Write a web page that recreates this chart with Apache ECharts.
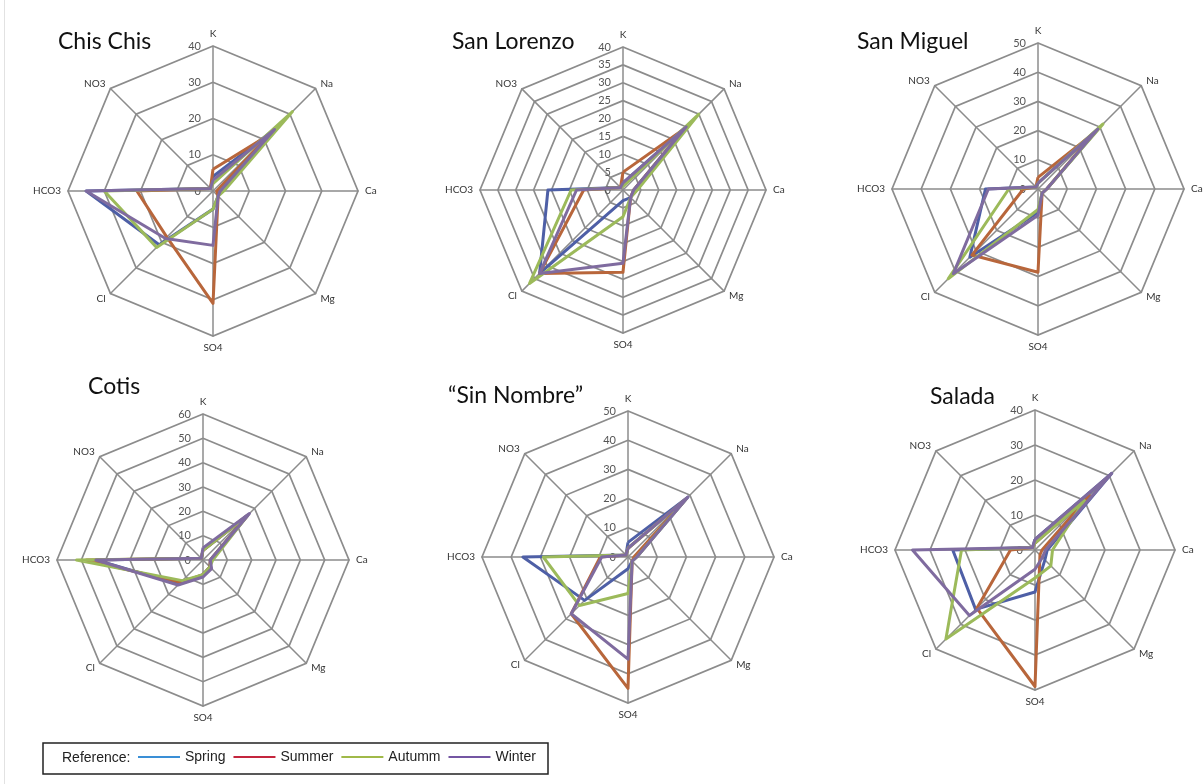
<!DOCTYPE html>
<html>
<head>
<meta charset="utf-8">
<script src="https://cdn.jsdelivr.net/npm/echarts@6/dist/echarts.min.js"></script>
<style>
  html, body { margin: 0; padding: 0; background: #fff; }
  #chart { width: 1203px; height: 784px; }
</style>
</head>
<body>
<div id="chart"></div>
<script>
// Ion axes, listed clockwise from the top
const ions = ['K', 'Na', 'Ca', 'Mg', 'SO4', 'Cl', 'HCO3', 'NO3'];
const seasons = ['Spring', 'Summer', 'Autumm', 'Winter'];

const sites = ['Chis Chis', 'San Lorenzo', 'San Miguel', 'Cotis', '\u201cSin Nombre\u201d', 'Salada'];
const axisMax = [40, 40, 50, 60, 50, 40];
const axisStep = [10, 5, 10, 10, 10, 10];

// Concentrations per site: one row per season (Spring, Summer, Autumm, Winter), columns follow `ions`
const chisChis = [
  [4, 24, 2, 2, 5, 21, 35, 1],
  [6, 22, 1, 2, 31, 18, 21, 1],
  [2, 31, 3, 2, 5, 22, 30, 1],
  [3, 24, 2, 2, 15, 18.5, 35, 1]
];
const sanLorenzo = [
  [2, 25, 3, 3, 3, 33, 21, 1],
  [5, 24, 3, 3, 23, 33, 11, 1],
  [1, 30, 4, 3, 7.5, 37, 14.5, 1],
  [2, 25, 3, 3, 20.5, 33, 13, 1]
];
const sanMiguel = [
  [2, 29, 3, 2, 8, 33, 18, 1],
  [4, 27, 3, 2, 28.5, 32, 5, 1],
  [2, 31.5, 3, 2, 7, 43.5, 10, 1],
  [2, 29, 3, 2, 9, 41, 17, 1]
];
const cotis = [
  [4, 26, 3, 4, 6, 14, 44, 1],
  [4, 26, 3, 4, 6, 13, 48, 1],
  [4, 26, 4, 4, 6, 12, 52, 1],
  [5, 27, 3, 5, 7, 14.5, 44, 1]
];
const sinNombre = [
  [5, 29, 3, 2, 4, 21, 36, 1],
  [3, 28, 2, 2, 45, 27.5, 9.5, 1],
  [3, 28, 3, 2, 12.5, 23.5, 29, 1],
  [3, 29, 3, 2, 35, 27.5, 9, 1]
];
const salada = [
  [3, 31, 3.5, 4, 12, 24, 23.5, 1],
  [2, 22, 2, 2, 39, 23.5, 7, 1],
  [2, 20, 5, 6.4, 8, 36, 21, 1],
  [3, 31, 3, 3, 5.5, 26.5, 35, 1]
];
const siteValues = [chisChis, sanLorenzo, sanMiguel, cotis, sinNombre, salada];

// Layout of the six panels (pixels)
const panels = [
  { cx: 213, cy: 191, r: 145, titleX: 58, titleY: 30 },
  { cx: 623, cy: 190, r: 143, titleX: 452, titleY: 30 },
  { cx: 1038, cy: 189, r: 146, titleX: 857, titleY: 30 },
  { cx: 203, cy: 560, r: 146, titleX: 88, titleY: 375 },
  { cx: 628, cy: 557, r: 146, titleX: 448, titleY: 384 },
  { cx: 1035, cy: 550, r: 140, titleX: 930, titleY: 385 }
];

const lineColors = ['#4e5fa6', '#b8663b', '#9cba5a', '#7f6b9f'];
const legendColors = ['#3a8fd6', '#c4253d', '#a0b948', '#7456a3'];

// ECharts lays radar indicators out counter-clockwise, so walk the ions backwards after K
const order = [0, 7, 6, 5, 4, 3, 2, 1];

const gridColor = '#8c8c8c';
const font = 'Lato, "Liberation Sans", sans-serif';

const radars = [];
const series = [];
const titles = [];

sites.forEach((site, i) => {
  const p = panels[i];
  const indicator = order.map((k, j) => {
    const ind = { name: ions[k], min: 0, max: axisMax[i] };
    if (j === 0) {
      ind.axisLabel = {
        show: true,
        color: '#555',
        fontSize: 11,
        fontFamily: font,
        margin: 12
      };
    }
    return ind;
  });
  radars.push({
    center: [p.cx, p.cy],
    radius: p.r,
    startAngle: 90,
    shape: 'polygon',
    splitNumber: axisMax[i] / axisStep[i],
    indicator: indicator,
    axisName: { color: '#333', fontSize: 10, fontFamily: font },
    nameGap: 7,
    axisLabel: { show: false },
    axisTick: { show: false },
    axisLine: { lineStyle: { color: gridColor, width: 1.5 } },
    splitLine: { lineStyle: { color: gridColor, width: 1.7 } },
    splitArea: { show: false }
  });
  series.push({
    type: 'radar',
    radarIndex: i,
    symbol: 'none',
    silent: true,
    data: siteValues[i].map((row, s) => ({
      name: seasons[s],
      value: order.map(k => row[k]),
      lineStyle: { color: lineColors[s], width: 3 },
      itemStyle: { color: lineColors[s] }
    }))
  });
  titles.push({
    text: site,
    left: p.titleX,
    top: p.titleY,
    padding: 0,
    textStyle: { fontSize: 23, fontWeight: 'normal', color: '#111', fontFamily: font }
  });
});

const chart = echarts.init(document.getElementById('chart'), null, { renderer: 'canvas' });
chart.setOption({
  animation: false,
  backgroundColor: '#fff',
  title: titles,
  radar: radars,
  series: series,
  legend: {
    left: 138,
    top: 750,
    padding: 0,
    icon: 'rect',
    itemWidth: 42,
    itemHeight: 2,
    itemGap: 8,
    selectedMode: false,
    textStyle: { fontSize: 14, color: '#222', fontFamily: '"Liberation Sans", Arial, sans-serif' },
    data: seasons.map((s, k) => ({ name: s, itemStyle: { color: legendColors[k] } }))
  },
  graphic: [
    {
      type: 'line',
      shape: { x1: 4.5, y1: 0, x2: 4.5, y2: 784 },
      style: { stroke: '#e2e2e2', lineWidth: 1 },
      silent: true
    },
    {
      type: 'rect',
      shape: { x: 43, y: 743, width: 505, height: 31 },
      style: { fill: 'none', stroke: '#222', lineWidth: 1.5 },
      silent: true
    },
    {
      type: 'text',
      x: 62,
      y: 758,
      style: {
        text: 'Reference:',
        fill: '#222',
        fontSize: 14,
        fontFamily: '"Liberation Sans", Arial, sans-serif',
        verticalAlign: 'middle'
      },
      silent: true
    }
  ]
});
</script>
</body>
</html>
